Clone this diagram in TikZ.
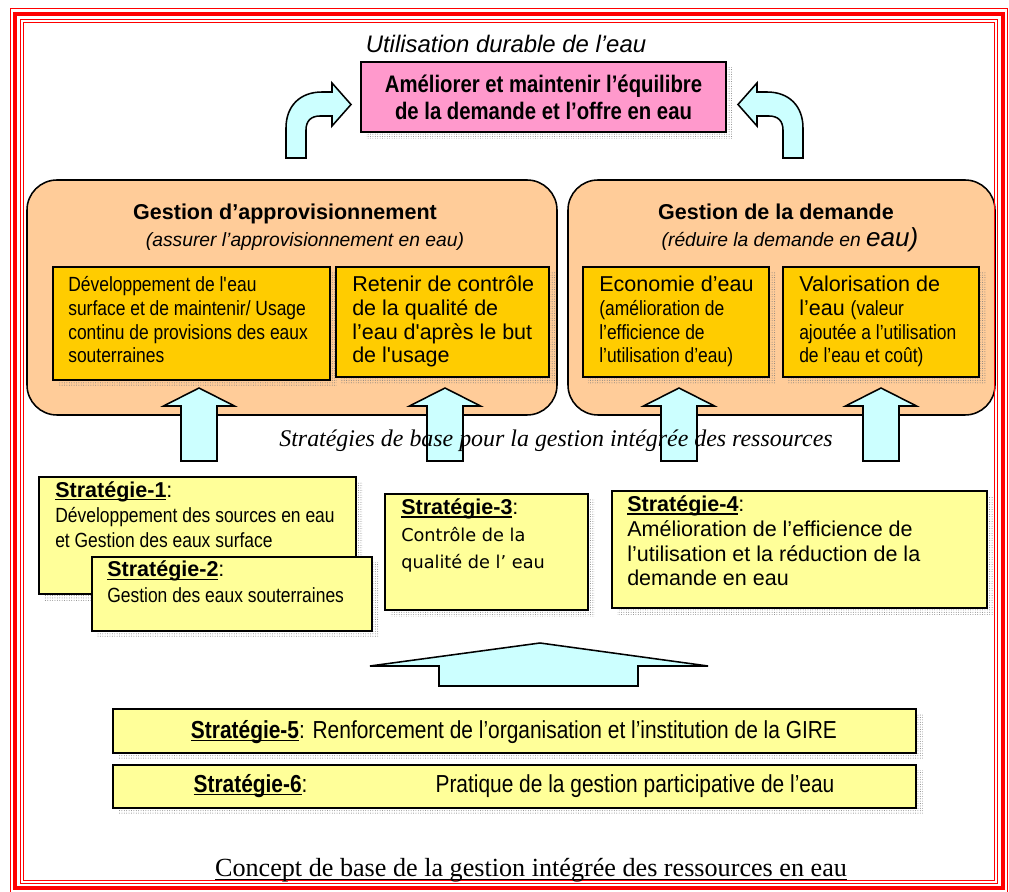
\documentclass[tikz,border=0pt]{standalone}
\usepackage{fontspec}
\setmainfont{Liberation Sans}
\newfontfamily\narrowfont[FakeStretch=0.85]{Liberation Sans}
\newfontfamily\seriffont{Liberation Serif}
\newfontfamily\gothicfont{DejaVu Sans}
\usepackage{tikz}
\usetikzlibrary{positioning,calc,fit,backgrounds,patterns.meta}
\definecolor{goalPink}{RGB}{255,153,204}
\definecolor{mgmtOrange}{RGB}{255,204,153}
\definecolor{actionGold}{RGB}{255,204,0}
\definecolor{stratYellow}{RGB}{255,255,153}
\definecolor{arrowCyan}{RGB}{204,255,255}
\definecolor{frameRed}{RGB}{255,0,0}
\newcommand{\narrowsize}{\narrowfont\fontsize{14.6pt}{16.85pt}\selectfont}
\newcommand{\ulbox}[3]{\setbox0=\hbox{#3}\leavevmode\rlap{\rule[-#2]{\wd0}{#1}}\box0}
\newcommand{\stratname}[1]{\ulbox{1.3pt}{2.4pt}{\bfseries #1}}
\tikzset{
  goal box/.style={draw=black,fill=goalPink,line width=1.3pt,inner sep=0pt},
  mgmt box/.style={draw=black,fill=mgmtOrange,line width=1.1pt,rounded corners=0.75cm,inner sep=0pt},
  action box/.style={draw=black,fill=actionGold,line width=1.3pt,inner sep=0pt},
  strat box/.style={draw=black,fill=stratYellow,line width=1.3pt,inner sep=0pt},
  dot shadow/.style={pattern={Dots[distance=1.7pt,radius=0.35pt]},pattern color=black!50},
  block arrow/.style={draw=black,fill=arrowCyan,line width=1.1pt,line join=miter},
  title text/.style={font=\itshape\fontsize{17pt}{19pt}\selectfont,inner sep=0pt,anchor=base},
  goal text/.style={font=\narrowfont\bfseries\fontsize{17pt}{19.2pt}\selectfont,align=center,inner sep=0pt},
  mgmt title/.style={font=\bfseries\fontsize{15.3pt}{18pt}\selectfont,inner sep=0pt,anchor=base},
  mgmt sub/.style={font=\itshape\fontsize{13.7pt}{16pt}\selectfont,inner sep=0pt,anchor=base},
  action text/.style={font=\fontsize{15.3pt}{16.85pt}\selectfont,align=left,inner sep=0pt,anchor=base west},
  strat text/.style={font=\fontsize{15.3pt}{#1}\selectfont,align=left,inner sep=0pt,anchor=base west},
  wide strat text/.style={font=\narrowfont\fontsize{17.5pt}{20pt}\selectfont,inner sep=0pt,anchor=base}
}

\begin{document}
\begin{tikzpicture}[x=0.025cm,y=-0.025cm]
  \useasboundingbox (0,0) rectangle (1009,892);
  % red frame
  \draw[frameRed,line width=0.7pt] (10,8) rectangle (1007,894);
  \draw[frameRed,line width=2.8pt] (15,14) rectangle (1003,888);
  \draw[frameRed,line width=0.7pt] (20.5,19.5) rectangle (997.5,883.5);
  \draw[frameRed,line width=0.7pt] (23.5,22.5) rectangle (994.5,880.5);

  % goal
  \node[title text] (useTitle) at (506,53) {Utilisation durable de l’eau};
  \node[goal box,fit={(361,62) (726,132)}] (goal) {};
  \node[goal text] (goalText) at (goal.center) {Améliorer et maintenir l’équilibre\\de la demande et l’offre en eau};
  \foreach \flip/\base in {1/0,-1/1089}
    \draw[block arrow,shift={(\base,0)},xscale=\flip] (286,158) -- (286,128)
      .. controls (286,106) and (300,92) .. (322,92) -- (332,92) -- (332,83) -- (351,104.5)
      -- (332,126) -- (332,116) -- (320,116) .. controls (311,116) and (306,121) .. (306,130)
      -- (306,158) -- cycle;

  % management boxes (base of last line given for multi-line texts)
  \node[mgmt title] (supplyTitle) at (285,220) {Gestion d’approvisionnement};
  \node[mgmt sub] (supplySub) at (305,247) {(assurer l’approvisionnement en eau)};
  \node[mgmt title] (demandTitle) at (776,220) {Gestion de la demande};
  \node[mgmt sub] (demandSub) at (790,247) {(réduire la demande en {\fontsize{18.5pt}{20pt}\selectfont eau)}};

  \node[action box,fit={(53,267) (330,380)}] (devsurf) {};
  \node[action text] (devsurfText) at (68,363) {\narrowsize Développement de l\textquotesingle eau\\
    \narrowsize surface et de maintenir/ Usage\\ \narrowsize continu de provisions des eaux\\ \narrowsize souterraines};
  \node[action box,fit={(336,267) (549,377)}] (quality) {};
  \node[action text] (qualityText) at (352,363) {Retenir de contrôle\\de la qualité de\\l’eau d\textquotesingle après le but\\de l\textquotesingle usage};
  \node[action box,fit={(583,267) (769,377)}] (saving) {};
  \node[action text] (savingText) at (599,363) {Economie d’eau\\ \narrowsize (amélioration de\\ \narrowsize l’efficience de\\ \narrowsize l’utilisation d’eau)};
  \node[action box,fit={(783,267) (979,377)}] (value) {};
  \node[action text] (valueText) at (799,363) {Valorisation de\\l’eau {\narrowsize (valeur}\\ \narrowsize ajoutée a l’utilisation\\ \narrowsize de l’eau et coût)};

  % strategies
  \node[strat box,fit={(39,477) (356,594)}] (strat1) {};
  \node[strat text=18.1pt] (strat1Text) at (55,548) {\stratname{Stratégie-1}:\\
    \narrowsize Développement des sources en eau\\ \narrowsize et Gestion des eaux surface};
  \node[strat box,fit={(92,557) (372,631)}] (strat2) {};
  \node[strat text=18.5pt] (strat2Text) at (107,603) {\stratname{Stratégie-2}:\\ \narrowsize Gestion des eaux souterraines};
  \node[strat box,fit={(385,494) (588,610)}] (strat3) {};
  \node[strat text=19.5pt] (strat3Text) at (401,569) {\stratname{Stratégie-3}:\\
    {\gothicfont\fontsize{12.6pt}{19.5pt}\selectfont Contrôle de la}\\ {\gothicfont\fontsize{12.6pt}{19.5pt}\selectfont qualité de l’ eau}};
  \node[strat box,fit={(612,491) (987,608)}] (strat4) {};
  \node[strat text=17.6pt] (strat4Text) at (627,586) {\stratname{Stratégie-4}:\\Amélioration de l’efficience de\\l’utilisation et la réduction de la\\demande en eau};
  \node[strat box,fit={(113,709) (916,753)}] (strat5) {};
  \node[wide strat text] (strat5Text) at (514,738) {\stratname{Stratégie-5}: Renforcement de l’organisation et l’institution de la GIRE};
  \node[strat box,fit={(113,765) (916,808)}] (strat6) {};
  \node[wide strat text] (strat6Text) at (514,792) {\stratname{Stratégie-6}:\hspace{3.2cm}Pratique de la gestion participative de l’eau};

  % arrows up
  \foreach \ax in {199,445,679,881}
    \draw[block arrow] (\ax,388) -- (\ax+35.5,406) -- (\ax+18,406) -- (\ax+18,461)
      -- (\ax-18,461) -- (\ax-18,406) -- (\ax-35.5,406) -- cycle;
  \draw[block arrow] (540,643) -- (708,666) -- (638,666) -- (638,686) -- (439,686) -- (439,666) -- (370,666) -- cycle;

  \node[font=\seriffont\itshape\fontsize{17pt}{20pt}\selectfont,inner sep=0pt,anchor=base] (baseText) at (556,447)
    {Stratégies de base pour la gestion intégrée des ressources};
  \node[font=\seriffont\fontsize{18.6pt}{22pt}\selectfont,inner sep=0pt,anchor=base] (caption) at (531,876)
    {\ulbox{0.7pt}{2.6pt}{Concept de base de la gestion intégrée des ressources en eau}};

  \begin{scope}[on background layer]
    \node[mgmt box,fit={(27,180) (557,415)}] (supply) {};
    \node[mgmt box,fit={(568,180) (995,415)}] (demand) {};
    \foreach \n in {goal,devsurf,quality,saving,value,strat1,strat2,strat3,strat4,strat5,strat6}
      \fill[dot shadow] ($(\n.south west)+(6,6)$) rectangle ($(\n.north east)+(6,6)$);
  \end{scope}
\end{tikzpicture}
\end{document}
